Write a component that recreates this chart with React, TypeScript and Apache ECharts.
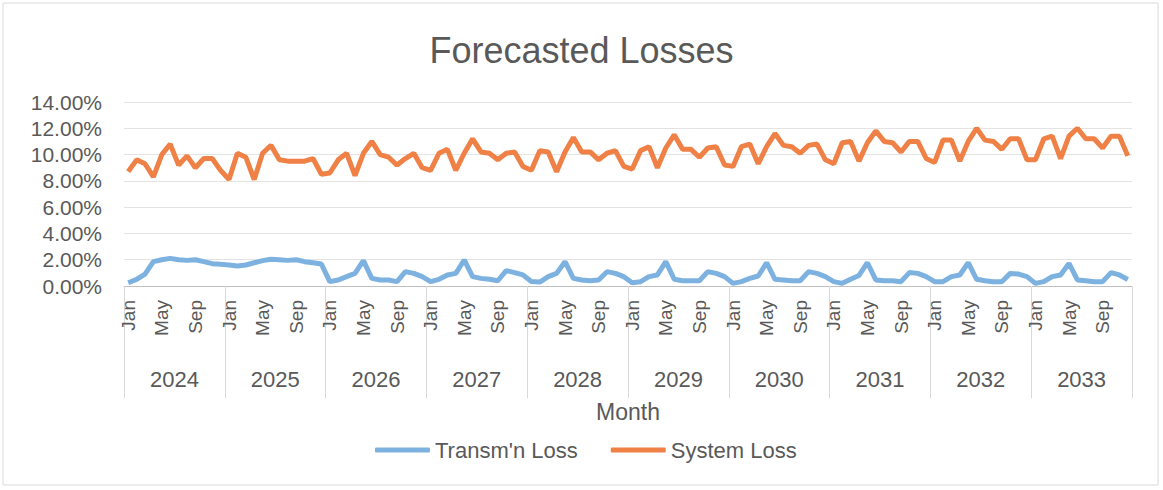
import React, { useEffect, useRef } from "react";
import * as echarts from "echarts";

const years = ["2024", "2025", "2026", "2027", "2028", "2029", "2030", "2031", "2032", "2033"];
const monthNames = ["Jan", "Feb", "Mar", "Apr", "May", "Jun", "Jul", "Aug", "Sep", "Oct", "Nov", "Dec"];

const systemLoss2024 = [8.7, 9.6, 9.3, 8.3, 10.0, 10.8, 9.2, 9.9, 9.0, 9.7, 9.7, 8.8];
const systemLoss2025 = [8.1, 10.1, 9.8, 8.1, 10.1, 10.7, 9.6, 9.5, 9.5, 9.5, 9.7, 8.5];
const systemLoss2026 = [8.6, 9.6, 10.1, 8.4, 10.1, 11.0, 10.0, 9.8, 9.2, 9.7, 10.1, 9.0];
const systemLoss2027 = [8.8, 10.1, 10.4, 8.8, 10.1, 11.2, 10.2, 10.1, 9.6, 10.1, 10.2, 9.1];
const systemLoss2028 = [8.8, 10.3, 10.2, 8.7, 10.2, 11.3, 10.2, 10.2, 9.6, 10.1, 10.3, 9.1];
const systemLoss2029 = [8.9, 10.3, 10.6, 9.0, 10.5, 11.5, 10.4, 10.4, 9.8, 10.5, 10.6, 9.2];
const systemLoss2030 = [9.1, 10.6, 10.8, 9.3, 10.6, 11.6, 10.7, 10.6, 10.1, 10.7, 10.8, 9.6];
const systemLoss2031 = [9.3, 10.9, 11.0, 9.5, 10.9, 11.8, 11.0, 10.9, 10.2, 11.0, 11.0, 9.7];
const systemLoss2032 = [9.4, 11.1, 11.1, 9.5, 11.0, 12.0, 11.1, 11.0, 10.4, 11.2, 11.2, 9.6];
const systemLoss2033 = [9.6, 11.2, 11.4, 9.7, 11.4, 12.0, 11.2, 11.2, 10.5, 11.4, 11.4, 9.9];

const transmLoss2024 = [0.25, 0.5, 0.9, 1.85, 2.0, 2.1, 2.0, 1.95, 2.0, 1.85, 1.7, 1.65];
const transmLoss2025 = [1.6, 1.52, 1.6, 1.77, 1.93, 2.03, 2.0, 1.95, 2.0, 1.85, 1.77, 1.67];
const transmLoss2026 = [0.33, 0.46, 0.71, 0.96, 1.93, 0.58, 0.46, 0.46, 0.33, 1.09, 0.96, 0.71];
const transmLoss2027 = [0.33, 0.51, 0.84, 0.96, 1.98, 0.71, 0.58, 0.51, 0.4, 1.17, 1.02, 0.84];
const transmLoss2028 = [0.35, 0.3, 0.71, 0.96, 1.85, 0.58, 0.46, 0.4, 0.46, 1.09, 0.96, 0.71];
const transmLoss2029 = [0.25, 0.33, 0.71, 0.84, 1.85, 0.51, 0.4, 0.4, 0.4, 1.09, 0.96, 0.71];
const transmLoss2030 = [0.2, 0.33, 0.58, 0.76, 1.77, 0.51, 0.46, 0.4, 0.4, 1.09, 0.96, 0.71];
const transmLoss2031 = [0.33, 0.2, 0.51, 0.8, 1.77, 0.46, 0.4, 0.4, 0.33, 1.02, 0.96, 0.71];
const transmLoss2032 = [0.33, 0.33, 0.71, 0.84, 1.77, 0.51, 0.4, 0.33, 0.33, 0.96, 0.91, 0.71];
const transmLoss2033 = [0.2, 0.33, 0.71, 0.84, 1.72, 0.46, 0.4, 0.33, 0.33, 1.02, 0.84, 0.5];

const systemLoss = [
  ...systemLoss2024, ...systemLoss2025, ...systemLoss2026, ...systemLoss2027, ...systemLoss2028,
  ...systemLoss2029, ...systemLoss2030, ...systemLoss2031, ...systemLoss2032, ...systemLoss2033,
];
const transmLoss = [
  ...transmLoss2024, ...transmLoss2025, ...transmLoss2026, ...transmLoss2027, ...transmLoss2028,
  ...transmLoss2029, ...transmLoss2030, ...transmLoss2031, ...transmLoss2032, ...transmLoss2033,
];

const months: string[] = [];
years.forEach((y) => monthNames.forEach((m) => months.push(m + " " + y)));

const FONT = "'Liberation Sans', Arial, sans-serif";
const TEXT = "#595959";

export default function App() {
  const ref = useRef<HTMLDivElement>(null);
  useEffect(() => {
    if (!ref.current) return;
    const chart = echarts.init(ref.current, undefined, { renderer: "svg" });
    chart.setOption({
      animation: false,
      backgroundColor: "#ffffff",
      textStyle: { fontFamily: FONT },
      title: {
        text: "Forecasted Losses",
        left: "center",
        top: 27,
        textStyle: { fontFamily: FONT, fontSize: 36, fontWeight: "normal", color: TEXT },
      },
      graphic: [
        {
          type: "rect",
          shape: { x: 3, y: 3, width: 1155, height: 482 },
          style: { fill: "none", stroke: "#d9d9d9", lineWidth: 1 },
          silent: true,
        },
      ],
      legend: {
        left: 370,
        top: 434,
        itemWidth: 55,
        itemHeight: 5,
        itemGap: 33,
        icon: "roundRect",
        textStyle: { fontFamily: FONT, fontSize: 22, color: TEXT },
        data: ["Transm'n Loss", "System Loss"],
      },
      grid: { left: 124, right: 31, top: 102, bottom: 204, containLabel: false },
      xAxis: [
        {
          type: "category",
          data: months,
          boundaryGap: true,
          name: "Month",
          nameLocation: "middle",
          nameGap: 114,
          nameTextStyle: { fontFamily: FONT, fontSize: 23, color: TEXT },
          axisLine: { show: true, lineStyle: { color: "#bfbfbf", width: 1 } },
          axisTick: { show: false },
          axisLabel: {
            interval: 3,
            rotate: 90,
            margin: 14,
            fontSize: 19,
            fontFamily: FONT,
            color: TEXT,
            formatter: (v: string) => v.split(" ")[0],
          },
          splitLine: { show: false },
        },
        {
          type: "category",
          data: years,
          position: "bottom",
          boundaryGap: true,
          axisLine: { show: false },
          axisTick: { show: true, interval: 0, length: 112, lineStyle: { color: "#d9d9d9", width: 1 } },
          axisLabel: { interval: 0, margin: 82, fontSize: 22, fontFamily: FONT, color: TEXT },
          splitLine: { show: false },
        },
      ],
      yAxis: {
        type: "value",
        min: 0,
        max: 14,
        interval: 2,
        axisLine: { show: false },
        axisTick: { show: false },
        axisLabel: {
          margin: 22,
          fontSize: 21,
          fontFamily: FONT,
          color: TEXT,
          formatter: (v: number) => v.toFixed(2) + "%",
        },
        splitLine: { show: true, lineStyle: { color: "#e3e3e3", width: 1 } },
      },
      series: [
        {
          name: "Transm'n Loss",
          type: "line",
          xAxisIndex: 0,
          data: transmLoss,
          symbol: "none",
          smooth: false,
          lineStyle: { color: "#7db2e0", width: 5 },
          itemStyle: { color: "#7db2e0" },
        },
        {
          name: "System Loss",
          type: "line",
          xAxisIndex: 0,
          data: systemLoss,
          symbol: "none",
          smooth: false,
          lineStyle: { color: "#ef8046", width: 5 },
          itemStyle: { color: "#ef8046" },
        },
      ],
    });
    return () => chart.dispose();
  }, []);
  return (
    <div
      ref={ref}
      style={{ position: "fixed", left: 0, top: 0, width: 1163, height: 490 }}
    />
  );
}
